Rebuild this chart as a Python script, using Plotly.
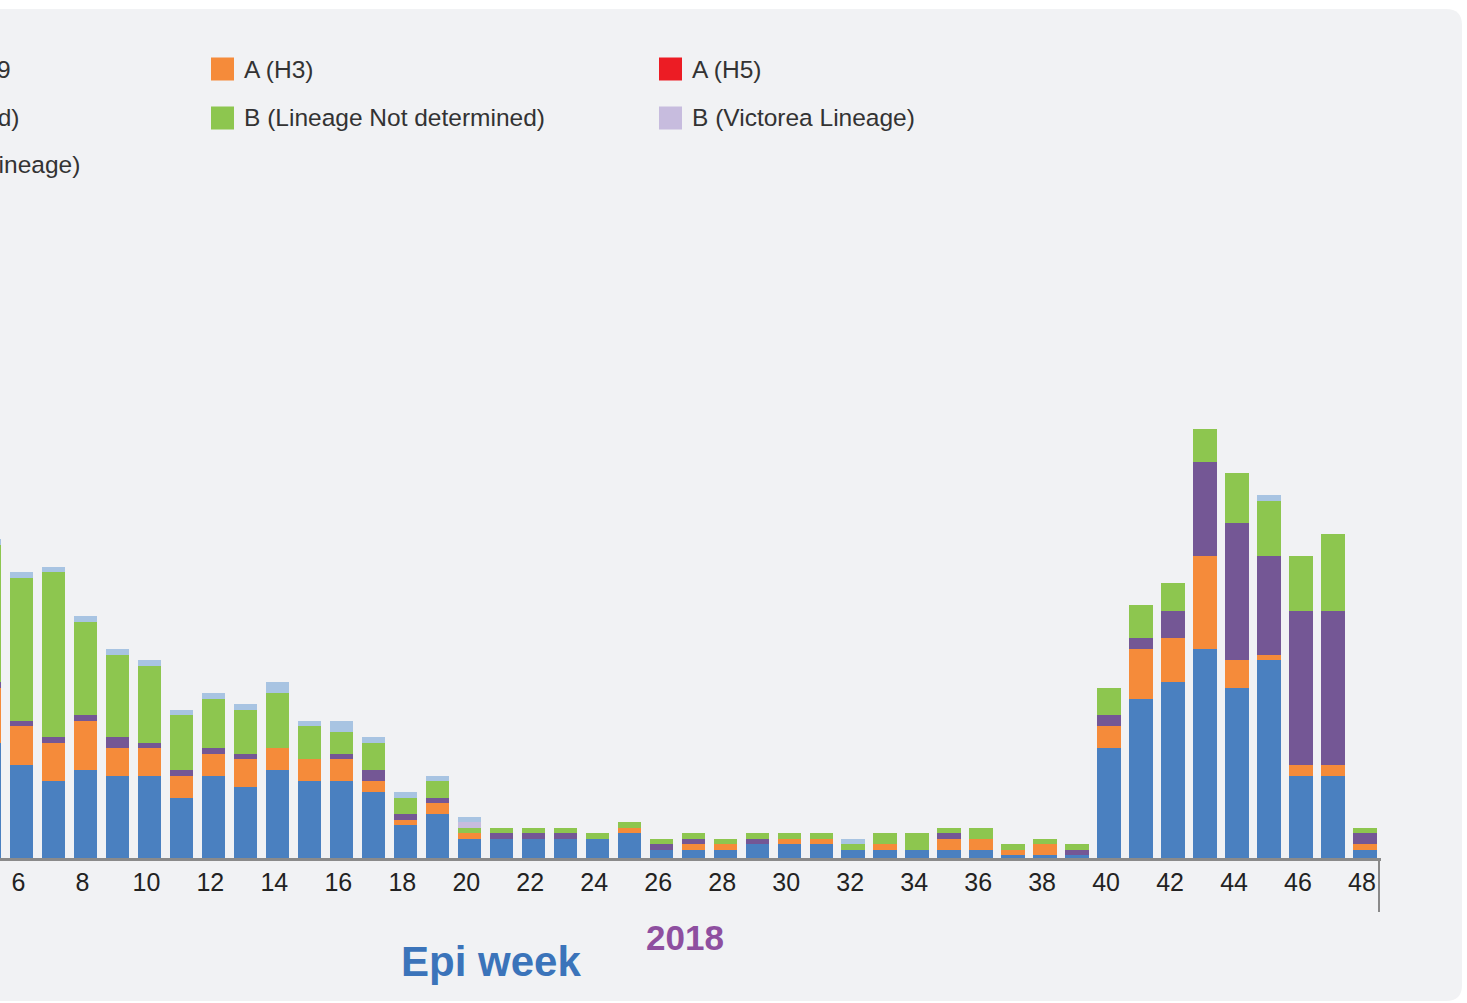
import plotly.graph_objects as go

# ---------------- data ----------------
weeks = list(range(5, 49))
tick_weeks = list(range(6, 49, 2))
tick_labels = [str(w) for w in tick_weeks]

series_names = [
    "A (H1N1)pdm09", "A (H3)", "A (H5)", "A (Not subtyped)",
    "B (Lineage Not determined)", "B (Victorea Lineage)", "B (Yamagata Lineage)",
]
series_colors = ["#4a80c0", "#f58b3a", "#ec1c24", "#745795", "#8dc64f", "#c7bcde", "#a8c4e2"]

h1n1 = [21, 17, 14, 16, 15, 15, 11, 15, 13, 16, 14, 14, 12, 6, 8,
        3.5, 3.5, 3.5, 3.5, 3.5, 4.5, 1.5, 1.5, 1.5, 2.5, 2.5, 2.5, 1.5, 1.5, 1.5,
        1.5, 1.5, 0.5, 0.5, 0.5, 20, 29, 32, 38, 31, 36, 15, 15, 1.5]
h3 = [10, 7, 7, 9, 5, 5, 4, 4, 5, 4, 4, 4, 2, 1, 2,
      1, 0, 0, 0, 0, 1, 0, 1, 1, 0, 1, 1, 0, 1, 0,
      2, 2, 1, 2, 0, 4, 9, 8, 17, 5, 1, 2, 2, 1]
h5 = [0] * 44
a_ns = [1, 1, 1, 1, 2, 1, 1, 1, 1, 0, 0, 1, 2, 1, 1,
        0, 1, 1, 1, 0, 0, 1, 1, 0, 1, 0, 0, 0, 0, 0,
        1, 0, 0, 0, 1, 2, 2, 5, 17, 25, 18, 28, 28, 2]
b_nd = [25, 26, 30, 17, 15, 14, 10, 9, 8, 10, 6, 4, 5, 3, 3,
        1, 1, 1, 1, 1, 1, 1, 1, 1, 1, 1, 1, 1, 2, 3,
        1, 2, 1, 1, 1, 5, 6, 5, 6, 9, 10, 10, 14, 1]
b_vic = [0, 0, 0, 0, 0, 0, 0, 0, 0, 0, 0, 0, 0, 0, 0,
         1, 0, 0, 0, 0, 0, 0, 0, 0, 0, 0, 0, 0, 0, 0,
         0, 0, 0, 0, 0, 0, 0, 0, 0, 0, 0, 0, 0, 0]
b_yam = [1, 1, 1, 1, 1, 1, 1, 1, 1, 2, 1, 2, 1, 1, 1,
         1, 0, 0, 0, 0, 0, 0, 0, 0, 0, 0, 0, 1, 0, 0,
         0, 0, 0, 0, 0, 0, 0, 0, 0, 0, 1, 0, 0, 0]

series_values = [h1n1, h3, h5, a_ns, b_nd, b_vic, b_yam]

# ---------------- layout geometry ----------------
W, H = 1467, 1003
ML, MR, MT, MB = 0, 86, 20, 145
PW, PH = W - ML - MR, H - MT - MB


def px(x):
    return (x - ML) / PW


def py(y):
    return (H - MB - y) / PH


FONT = "Liberation Sans, Arial, Helvetica, sans-serif"

fig = go.Figure()
for name, color, vals in zip(series_names, series_colors, series_values):
    fig.add_trace(go.Bar(x=weeks, y=vals, name=name, marker=dict(color=color, line=dict(width=0)),
                         showlegend=False))

shapes = []
annotations = []

# card background with rounded corners
x0, x1, y0, y1 = -40, 1462, 9, 1001
r = 16
rx, ry = r / PW, r / PH
path = (f"M {px(x0)},{py(y0)} L {px(x1) - rx},{py(y0)} Q {px(x1)},{py(y0)} {px(x1)},{py(y0) - ry} "
        f"L {px(x1)},{py(y1) + ry} Q {px(x1)},{py(y1)} {px(x1) - rx},{py(y1)} L {px(x0)},{py(y1)} Z")
shapes.append(dict(type="path", path=path, xref="paper", yref="paper", fillcolor="#f1f2f4",
                   line=dict(width=0), layer="below"))

# end separator line below axis
shapes.append(dict(type="line", xref="paper", yref="paper", x0=px(1379), x1=px(1379),
                   y0=py(858), y1=py(912), line=dict(color="#8a8a8a", width=2)))

# manual legend (left column is cut off by the crop, as in the reference)
legend_rows = [69, 118, 164]
col_marker_x = [-236, 211, 659]
legend_layout = [
    (0, 0, 0, 13), (1, 0, 1, None), (2, 0, 2, None),
    (3, 1, 0, 21), (4, 1, 1, None), (5, 1, 2, None),
    (6, 2, 0, 82),
]
for idx, row, col, right_end in legend_layout:
    yc = legend_rows[row]
    if right_end is None:
        mx = col_marker_x[col]
        shapes.append(dict(type="rect", xref="paper", yref="paper",
                           x0=px(mx), x1=px(mx + 23), y0=py(yc - 11.5), y1=py(yc + 11.5),
                           fillcolor=series_colors[idx], line=dict(width=0)))
        annotations.append(dict(x=px(mx + 31), y=py(yc), xref="paper", yref="paper",
                                text=series_names[idx], showarrow=False, xanchor="left",
                                yanchor="middle", font=dict(family=FONT, size=24.5, color="#333333")))
    else:
        annotations.append(dict(x=px(right_end), y=py(yc), xref="paper", yref="paper",
                                text=series_names[idx], showarrow=False, xanchor="right",
                                yanchor="middle", font=dict(family=FONT, size=24.5, color="#333333")))

annotations.append(dict(x=px(685), y=py(937), xref="paper", yref="paper", text="<b>2018</b>",
                        showarrow=False, xanchor="center", yanchor="middle",
                        font=dict(family=FONT, size=35, color="#8e4fa0")))
annotations.append(dict(x=px(491), y=py(962), xref="paper", yref="paper", text="<b>Epi week</b>",
                        showarrow=False, xanchor="center", yanchor="middle",
                        font=dict(family=FONT, size=42, color="#3b74ba")))

fig.update_layout(
    width=W, height=H,
    margin=dict(l=ML, r=MR, t=MT, b=MB, autoexpand=False),
    paper_bgcolor="#ffffff", plot_bgcolor="rgba(0,0,0,0)",
    barmode="stack", bargap=0.27,
    shapes=shapes, annotations=annotations,
    showlegend=False,
    xaxis=dict(range=[5.33, 48.5], tickmode="array", tickvals=tick_weeks, ticktext=tick_labels,
               showgrid=False, zeroline=False, showline=True, linecolor="#8a8a8a", linewidth=2.5,
               ticks="", ticklabelshift=-3, tickfont=dict(family=FONT, size=25, color="#222222")),
    yaxis=dict(range=[0, PH / 5.5], visible=False, showgrid=False, zeroline=False),
)

fig.write_html("out.html", config={"displayModeBar": False},
               post_script="document.body.style.margin='0';document.body.style.overflow='hidden';")
